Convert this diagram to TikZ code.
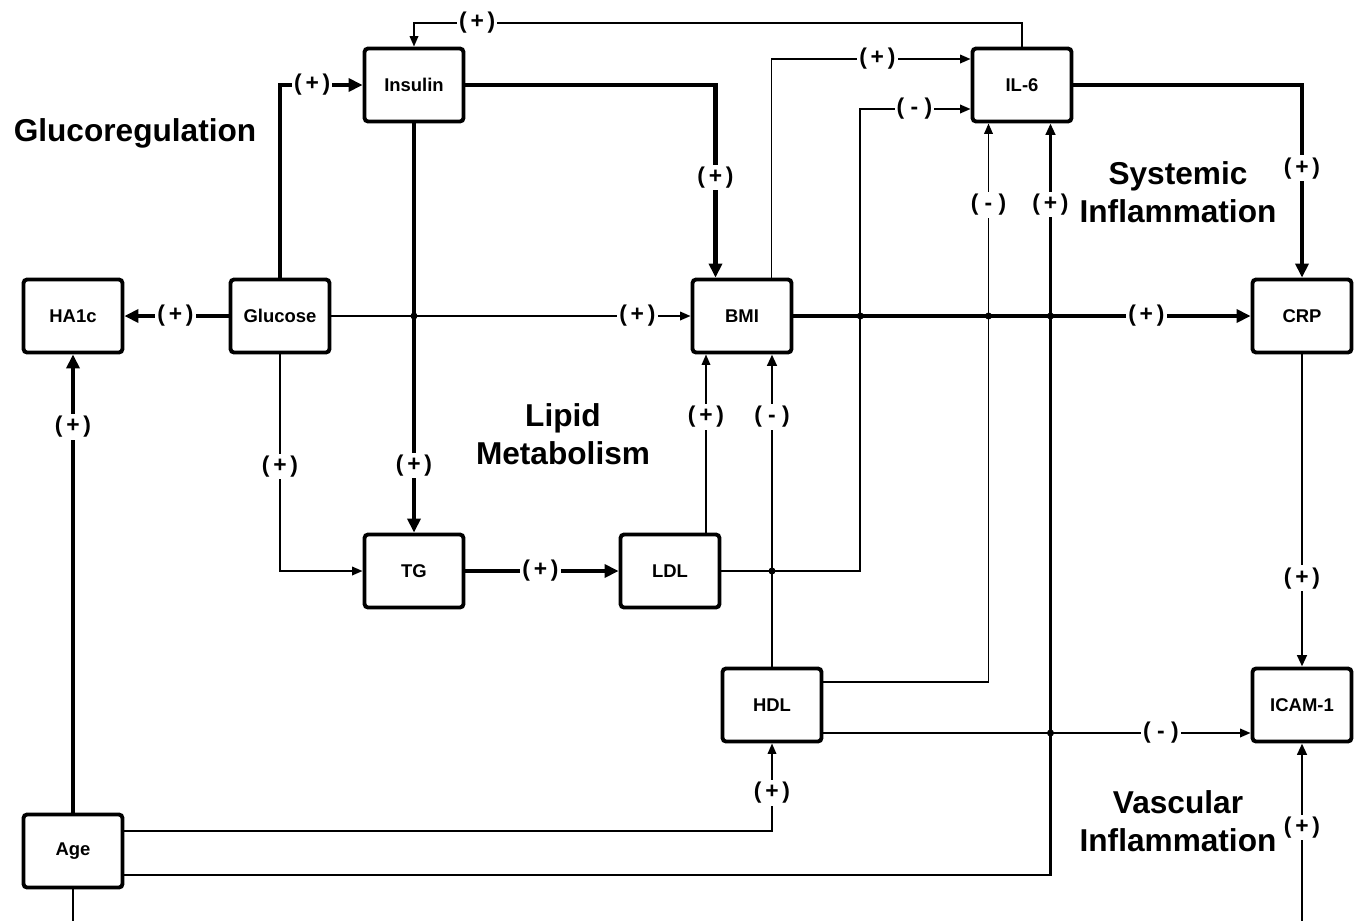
\documentclass[tikz,border=0pt]{standalone}
\usepackage{fontspec}
\setmainfont{Liberation Sans}
\usetikzlibrary{positioning,arrows.meta,calc}
\tikzset{
  flow/.style={-{Triangle[length=2.8mm,width=2.6mm]},line width=2.8pt},
  midflow/.style={-{Triangle[length=2.3mm,width=1.9mm]},line width=1.6pt},
  thinflow/.style={-{Triangle[length=2.1mm,width=1.7mm]},line width=1.1pt},
  box/.style={draw,line width=2.2pt,rounded corners=2pt,minimum width=1.98cm,
    minimum height=1.46cm,inner sep=0pt,align=center,font=\fontsize{10.5}{12}\selectfont\bfseries},
  region/.style={align=center,font=\fontsize{18}{21.5}\selectfont\bfseries},
  sign/.style={fill=white,inner sep=1.2pt,font=\fontsize{13}{15}\selectfont\bfseries}
}
\begin{document}
\begin{tikzpicture}[x=0.02cm,y=-0.02cm]
  \useasboundingbox (0,0) rectangle (1356,920);
  \node[box] (ins) at (414,85) {Insulin};
  \node[box] (il6) at (1022,85) {IL-6};
  \node[box] (hba) at (73,316) {HA1c};
  \node[box] (glu) at (280,316) {Glucose};
  \node[box] (bmi) at (742,316) {BMI};
  \node[box] (crp) at (1302,316) {CRP};
  \node[box] (tg) at (414,571) {TG};
  \node[box] (ldl) at (670,571) {LDL};
  \node[box] (hdl) at (772,705) {HDL};
  \node[box] (icam) at (1302,705) {ICAM-1};
  \node[box] (age) at (73,851) {Age};
  \node[region] (glureg) at (135,133) {Glucoregulation};
  \node[region] (lipid) at (563,434) {Lipid\\Metabolism};
  \node[region] (sysinf) at (1178,192) {Systemic\\Inflammation};
  \node[region] (vasinf) at (1178,821) {Vascular\\Inflammation};
  \coordinate (ldlup) at ([xshift=0.72cm]ldl.north);
  \coordinate (ldlout) at ([xshift=2.78cm]ldl.east);
  \coordinate (hdlup) at ([yshift=0.46cm]hdl.east);
  \coordinate (hdlrt) at ([yshift=-0.56cm]hdl.east);
  \coordinate (ageup) at ([yshift=0.4cm]age.east);
  \coordinate (agert) at ([yshift=-0.48cm]age.east);
  \coordinate (vin) at (1302,922);
  \coordinate (aout) at (73,922);

  \draw[thinflow] (il6.north) -- ++(0,-24) -| node[sign,pos=0.448] (s1) {(\,+\,)} (ins.north);
  \draw[flow] (glu.north) |- node[sign,pos=0.695] (s2) {(\,+\,)} (ins.west);
  \draw[flow] (ins.east) -| node[sign,pos=0.74] (s3) {(\,+\,)} ([xshift=-0.53cm]bmi.north);
  \draw[flow] (ins.south) -- node[sign,pos=0.836] (s4) {(\,+\,)} (tg.north);
  \draw[flow] (glu.west) -- node[sign,pos=0.51] (s5) {(\,+\,)} (hba.east);
  \draw[thinflow] (glu.east) -- node[sign,pos=0.852] (s6) {(\,+\,)} (bmi.west);
  \draw[thinflow] (glu.south) |- node[sign,pos=0.259] (s7) {(\,+\,)} (tg.west);
  \draw[flow] (tg.east) -- node[sign,pos=0.49] (s8) {(\,+\,)} (ldl.west);
  \draw[thinflow] (ldlup) -- node[sign,pos=0.65] (s9) {(\,+\,)} (ldlup |- bmi.south);
  \draw[thinflow] (ldl.east) -- (ldlout) |- node[sign,pos=0.745] (s10) {(\;-\;)} ([yshift=-0.48cm]il6.west);
  \draw[midflow] (hdl.north) -- node[sign,pos=0.8] (s11) {(\;-\;)} (hdl.north |- bmi.south);
  \draw[thinflow] ([xshift=0.59cm]bmi.north) |- node[sign,pos=0.766] (s12) {(\,+\,)} ([yshift=0.52cm]il6.west);
  \draw[flow] (il6.east) -| node[sign,pos=0.716] (s13) {(\,+\,)} (crp.north);
  \draw[flow] (bmi.east) -- node[sign,pos=0.772] (s14) {(\,+\,)} (crp.west);
  \draw[thinflow] (hdlup) -| node[sign,pos=0.927] (s15) {(\;-\;)} ([xshift=-0.67cm]il6.south);
  \draw[thinflow] (hdlrt) -- node[sign,pos=0.79] (s16) {(\;-\;)} (hdlrt -| icam.west);
  \draw[midflow] (agert) -| node[sign,pos=0.946] (s17) {(\,+\,)} ([xshift=0.57cm]il6.south);
  \draw[thinflow] (ageup) -| node[sign,pos=0.718] (s18) {(\,+\,)} (hdl.south);
  \draw[flow] (age.north) -- node[sign,pos=0.842] (s19) {(\,+\,)} (hba.south);
  \draw[midflow] (crp.south) -- node[sign,pos=0.717] (s20) {(\,+\,)} (icam.north);
  \draw[midflow] (vin) -- node[sign,pos=0.53] (s21) {(\,+\,)} (icam.south);
  \draw[line width=1.3pt] (age.south) -- (aout);

  \fill (ins.south |- glu.east) circle (0.07cm);
  \fill (ldlout |- bmi.east) circle (0.07cm);
  \fill ([xshift=-0.67cm]il6.south |- bmi.east) circle (0.07cm);
  \fill ([xshift=0.57cm]il6.south |- bmi.east) circle (0.07cm);
  \fill (hdl.north |- ldl.east) circle (0.07cm);
  \fill ([xshift=0.57cm]il6.south |- hdlrt) circle (0.07cm);
\end{tikzpicture}
\end{document}
